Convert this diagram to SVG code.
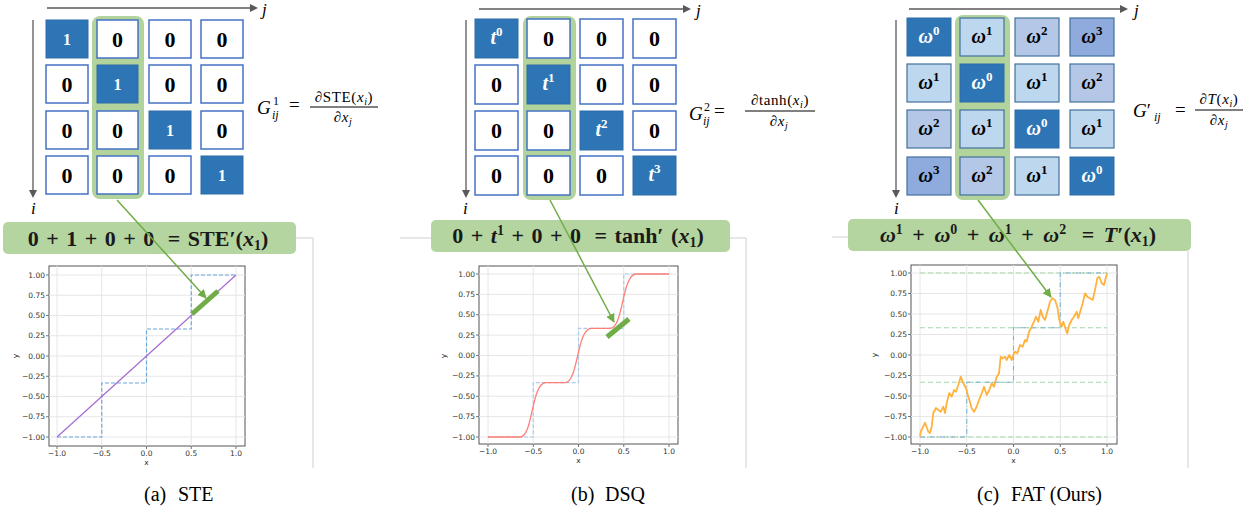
<svg xmlns="http://www.w3.org/2000/svg" width="1258" height="514" viewBox="0 0 1258 514">
<defs>
<style>
text{font-family:"Liberation Serif",serif;}
.dk{fill:#2E75B6;stroke:#2E6DA8;stroke-width:1;}
.wh{fill:#FFFFFF;stroke:#4472C4;stroke-width:1.5;}
.l1{fill:#BDD7EE;stroke:#41719C;stroke-width:1.2;}
.l2{fill:#B4C7E7;stroke:#41719C;stroke-width:1.2;}
.l3{fill:#8FAADC;stroke:#41719C;stroke-width:1.2;}
.hl{fill:#B2D49C;}
.fbox{fill:#B4D5A0;}
.cz{font-size:22px;font-weight:bold;text-anchor:middle;fill:#000;}
.c1{font-size:16px;font-weight:bold;text-anchor:middle;fill:#fff;}
.tv{font-size:20px;font-weight:bold;font-style:italic;text-anchor:middle;fill:#fff;}
.om{font-size:20px;font-weight:bold;font-style:italic;text-anchor:middle;fill:#000;}
.omw{font-size:20px;font-weight:bold;font-style:italic;text-anchor:middle;fill:#fff;}
.sp{font-size:13px;font-style:normal;}
.ax{stroke:#595959;stroke-width:1.3;fill:none;}
.axh{fill:#595959;}
.axl{font-size:17px;font-style:italic;fill:#000;}
.gf{font-size:19px;fill:#000;}
.gs{font-size:12px;}
.fr{font-size:15px;fill:#000;text-anchor:middle;letter-spacing:0.6px;}
.frl{stroke:#000;stroke-width:1;}
.fb{font-size:22px;font-weight:bold;text-anchor:middle;fill:#1a1a1a;word-spacing:2px;}
.fs{font-size:14px;font-style:normal;}
.sep{stroke:#D0D0D0;stroke-width:1;fill:none;}
.frame{fill:#fff;stroke:#555;stroke-width:1;}
.grid{stroke:#E6E6E6;stroke-width:1;fill:none;}
.tk{stroke:#555;stroke-width:0.8;}
.tlx{font-family:"DejaVu Sans",sans-serif;font-size:7.5px;fill:#333;text-anchor:middle;}
.tly{font-family:"DejaVu Sans",sans-serif;font-size:7.5px;fill:#333;text-anchor:end;}
.step{fill:none;stroke:#6FA8DC;stroke-width:1.2;stroke-dasharray:4 2;}
.stepl{fill:none;stroke:#A9CCEA;stroke-width:1.2;stroke-dasharray:4 2;}
.garrow{stroke:#70AD47;stroke-width:1.5;fill:none;}
.gthick{stroke:#70AD47;stroke-width:5;stroke-linecap:butt;}
.cap{font-size:20px;fill:#000;}
</style>
<marker id="ga" viewBox="0 0 10 10" refX="9" refY="5" markerWidth="6" markerHeight="6" orient="auto" markerUnits="strokeWidth">
<path d="M0,0 L10,5 L0,10 z" fill="#70AD47"/>
</marker>
</defs>
<rect width="1258" height="514" fill="#fff"/>

<g id="separators">
<path class="sep" d="M296,238 H313 V468"/>
<path class="sep" d="M400,238 H431 M730,238 H746 V468"/>
<path class="sep" d="M832,237 H848 M1188,251 V468"/>
</g>

<!-- ================= Panel A ================= -->
<g id="panelA-axes">
<line class="ax" x1="47" y1="8" x2="251" y2="8"/>
<path class="axh" d="M258,8 L250,4 L250,12 z"/>
<text class="axl" x="262" y="15">j</text>
<line class="ax" x1="33" y1="20" x2="33" y2="191"/>
<path class="axh" d="M33,198 L29,190 L37,190 z"/>
<text class="axl" x="31" y="214">i</text>
</g>
<g id="panelA-matrix">
<rect class="hl" x="92" y="16" width="52" height="183" rx="8"/>
<rect class="dk" x="46" y="20" width="42" height="38"/><text class="c1" x="67" y="45">1</text>
<rect class="wh" x="97" y="20" width="41" height="38"/><text class="cz" x="117.5" y="47">0</text>
<rect class="wh" x="149" y="20" width="42" height="38"/><text class="cz" x="170" y="47">0</text>
<rect class="wh" x="201" y="20" width="42" height="38"/><text class="cz" x="222" y="47">0</text>
<rect class="wh" x="46" y="65" width="42" height="38"/><text class="cz" x="67" y="92">0</text>
<rect class="dk" x="97" y="65" width="41" height="38"/><text class="c1" x="117.5" y="90">1</text>
<rect class="wh" x="149" y="65" width="42" height="38"/><text class="cz" x="170" y="92">0</text>
<rect class="wh" x="201" y="65" width="42" height="38"/><text class="cz" x="222" y="92">0</text>
<rect class="wh" x="46" y="111" width="42" height="38"/><text class="cz" x="67" y="138">0</text>
<rect class="wh" x="97" y="111" width="41" height="38"/><text class="cz" x="117.5" y="138">0</text>
<rect class="dk" x="149" y="111" width="42" height="38"/><text class="c1" x="170" y="136">1</text>
<rect class="wh" x="201" y="111" width="42" height="38"/><text class="cz" x="222" y="138">0</text>
<rect class="wh" x="46" y="156" width="42" height="38"/><text class="cz" x="67" y="183">0</text>
<rect class="wh" x="97" y="156" width="41" height="38"/><text class="cz" x="117.5" y="183">0</text>
<rect class="wh" x="149" y="156" width="42" height="38"/><text class="cz" x="170" y="183">0</text>
<rect class="dk" x="201" y="156" width="42" height="38"/><text class="c1" x="222" y="181">1</text>
</g>
<g id="panelA-def">
<text class="gf" x="257" y="114" font-style="italic">G</text>
<text class="gf gs" x="273" y="105">1</text>
<text class="gf gs" x="272" y="119" font-style="italic">ij</text>
<text class="gf" x="289" y="111">=</text>
<line class="frl" x1="310" y1="107" x2="378" y2="107"/>
<text class="fr" x="344" y="102">∂STE(<tspan font-style="italic">x</tspan><tspan font-size="10" font-style="italic" dy="3">i</tspan><tspan dy="-3">)</tspan></text>
<text class="fr" x="343" y="122">∂<tspan font-style="italic">x</tspan><tspan font-size="10" font-style="italic" dy="3">j</tspan></text>
</g>
<g id="panelA-sum">
<rect class="fbox" x="3" y="222" width="293" height="32" rx="5"/>
<text class="fb" x="148" y="246">0 + 1 + 0 + 0 <tspan dx="6">= STE′(</tspan><tspan font-style="italic">x</tspan><tspan class="fs" dy="4">1</tspan><tspan dy="-4">)</tspan></text>
</g>
<g id="panelA-plot">
<rect class="frame" x="49" y="266" width="196" height="180"/>
<path class="grid" d="M57,266V446M101.75,266V446M146.5,266V446M191.25,266V446M236,266V446M49,275H245M49,295.25H245M49,315.5H245M49,335.75H245M49,356H245M49,376.25H245M49,396.5H245M49,416.75H245M49,437H245"/>
<path class="tk" d="M57,446v3M101.75,446v3M146.5,446v3M191.25,446v3M236,446v3M46,275h3M46,295.25h3M46,315.5h3M46,335.75h3M46,356h3M46,376.25h3M46,396.5h3M46,416.75h3M46,437h3"/>
<text class="tly" x="45" y="277.5">1.00</text>
<text class="tly" x="45" y="297.75">0.75</text>
<text class="tly" x="45" y="318">0.50</text>
<text class="tly" x="45" y="338.25">0.25</text>
<text class="tly" x="45" y="358.5">0.00</text>
<text class="tly" x="45" y="378.75">−0.25</text>
<text class="tly" x="45" y="399">−0.50</text>
<text class="tly" x="45" y="419.25">−0.75</text>
<text class="tly" x="45" y="439.5">−1.00</text>
<text class="tlx" x="57" y="456">−1.0</text>
<text class="tlx" x="101.75" y="456">−0.5</text>
<text class="tlx" x="146.5" y="456">0.0</text>
<text class="tlx" x="191.25" y="456">0.5</text>
<text class="tlx" x="236" y="456">1.0</text>
<text class="tlx" x="146.5" y="465">x</text>
<text class="tlx" transform="translate(18,356) rotate(-90)">y</text>
<path class="step" d="M57,437 H101.75 V383 H146.5 V329 H191.25 V275 H236"/>
<line x1="57" y1="437" x2="236" y2="275" stroke="#A66BD3" stroke-width="1.2"/>
</g>

<!-- ================= Panel B ================= -->
<g id="panelB-axes">
<line class="ax" x1="479" y1="9" x2="684" y2="9"/>
<path class="axh" d="M691,9 L683,5 L683,13 z"/>
<text class="axl" x="696" y="16">j</text>
<line class="ax" x1="466" y1="20" x2="466" y2="191"/>
<path class="axh" d="M466,198 L462,190 L470,190 z"/>
<text class="axl" x="463" y="214">i</text>
</g>
<g id="panelB-matrix">
<rect class="hl" x="523" y="16" width="53" height="184" rx="8"/>
<rect class="dk" x="475" y="19" width="43" height="39"/><text class="tv" x="496.5" y="44">t<tspan class="sp" dy="-8">0</tspan></text>
<rect class="wh" x="527" y="19" width="43" height="39"/><text class="cz" x="548.5" y="46">0</text>
<rect class="wh" x="580" y="19" width="43" height="39"/><text class="cz" x="601.5" y="46">0</text>
<rect class="wh" x="633" y="19" width="43" height="39"/><text class="cz" x="654.5" y="46">0</text>
<rect class="wh" x="475" y="65" width="43" height="39"/><text class="cz" x="496.5" y="92">0</text>
<rect class="dk" x="527" y="65" width="43" height="39"/><text class="tv" x="548.5" y="90">t<tspan class="sp" dy="-8">1</tspan></text>
<rect class="wh" x="580" y="65" width="43" height="39"/><text class="cz" x="601.5" y="92">0</text>
<rect class="wh" x="633" y="65" width="43" height="39"/><text class="cz" x="654.5" y="92">0</text>
<rect class="wh" x="475" y="111" width="43" height="39"/><text class="cz" x="496.5" y="138">0</text>
<rect class="wh" x="527" y="111" width="43" height="39"/><text class="cz" x="548.5" y="138">0</text>
<rect class="dk" x="580" y="111" width="43" height="39"/><text class="tv" x="601.5" y="136">t<tspan class="sp" dy="-8">2</tspan></text>
<rect class="wh" x="633" y="111" width="43" height="39"/><text class="cz" x="654.5" y="138">0</text>
<rect class="wh" x="475" y="156" width="43" height="39"/><text class="cz" x="496.5" y="183">0</text>
<rect class="wh" x="527" y="156" width="43" height="39"/><text class="cz" x="548.5" y="183">0</text>
<rect class="wh" x="580" y="156" width="43" height="39"/><text class="cz" x="601.5" y="183">0</text>
<rect class="dk" x="633" y="156" width="43" height="39"/><text class="tv" x="654.5" y="181">t<tspan class="sp" dy="-8">3</tspan></text>
</g>
<g id="panelB-def">
<text class="gf" x="689" y="120" font-style="italic">G</text>
<text class="gf gs" x="704" y="111">2</text>
<text class="gf gs" x="703" y="125" font-style="italic">ij</text>
<text class="gf" x="714" y="117">=</text>
<line class="frl" x1="745" y1="111" x2="815" y2="111"/>
<text class="fr" x="780" y="105">∂tanh(<tspan font-style="italic">x</tspan><tspan font-size="10" font-style="italic" dy="3">i</tspan><tspan dy="-3">)</tspan></text>
<text class="fr" x="779" y="126">∂<tspan font-style="italic">x</tspan><tspan font-size="10" font-style="italic" dy="3">j</tspan></text>
</g>
<g id="panelB-sum">
<rect class="fbox" x="431" y="220" width="299" height="32" rx="5"/>
<text class="fb" x="578" y="243">0 + <tspan font-style="italic">t</tspan><tspan class="fs" dy="-8">1</tspan><tspan dy="8"> + 0 + 0 </tspan><tspan dx="6">= tanh′ (</tspan><tspan font-style="italic">x</tspan><tspan class="fs" dy="4">1</tspan><tspan dy="-4">)</tspan></text>
</g>
<g id="panelB-plot">
<rect class="frame" x="479" y="266" width="199" height="178"/>
<path class="grid" d="M488,266V444M533.25,266V444M578.5,266V444M623.75,266V444M669,266V444M479,274H678M479,294.4H678M479,314.75H678M479,335.1H678M479,355.5H678M479,375.9H678M479,396.25H678M479,416.6H678M479,437H678"/>
<path class="tk" d="M488,444v3M533.25,444v3M578.5,444v3M623.75,444v3M669,444v3M476,274h3M476,294.4h3M476,314.75h3M476,335.1h3M476,355.5h3M476,375.9h3M476,396.25h3M476,416.6h3M476,437h3"/>
<text class="tly" x="475" y="276.5">1.00</text>
<text class="tly" x="475" y="296.9">0.75</text>
<text class="tly" x="475" y="317.25">0.50</text>
<text class="tly" x="475" y="337.6">0.25</text>
<text class="tly" x="475" y="358">0.00</text>
<text class="tly" x="475" y="378.4">−0.25</text>
<text class="tly" x="475" y="398.75">−0.50</text>
<text class="tly" x="475" y="419.1">−0.75</text>
<text class="tly" x="475" y="439.5">−1.00</text>
<text class="tlx" x="488" y="454">−1.0</text>
<text class="tlx" x="533.25" y="454">−0.5</text>
<text class="tlx" x="578.5" y="454">0.0</text>
<text class="tlx" x="623.75" y="454">0.5</text>
<text class="tlx" x="669" y="454">1.0</text>
<text class="tlx" x="578.5" y="463">x</text>
<text class="tlx" transform="translate(446,356) rotate(-90)">y</text>
<path class="stepl" d="M488,437 H533.25 V382.7 H578.5 V328.3 H623.75 V274 H669"/>
<path d="M488,437 H520 C533.25,437 531,382.7 546,382.7 H565 C578.5,382.7 576.5,328.3 591.5,328.3 H610 C623.75,328.3 621.5,274 636.5,274 H669" fill="none" stroke="#FF7F78" stroke-width="1.3"/>
</g>

<!-- ================= Panel C ================= -->
<g id="panelC-axes">
<line class="ax" x1="909" y1="9" x2="1121" y2="9"/>
<path class="axh" d="M1128,9 L1120,5 L1120,13 z"/>
<text class="axl" x="1134" y="16">j</text>
<line class="ax" x1="896" y1="20" x2="896" y2="191"/>
<path class="axh" d="M896,198 L892,190 L900,190 z"/>
<text class="axl" x="894" y="214">i</text>
</g>
<g id="panelC-matrix">
<rect class="hl" x="955" y="15" width="55" height="185" rx="8"/>
<rect class="dk" x="907" y="18" width="44" height="38"/><text class="omw" x="929" y="43">ω<tspan class="sp" dy="-8">0</tspan></text>
<rect class="l1" x="960" y="18" width="44" height="38"/><text class="om" x="982" y="43">ω<tspan class="sp" dy="-8">1</tspan></text>
<rect class="l2" x="1015" y="18" width="44" height="38"/><text class="om" x="1037" y="43">ω<tspan class="sp" dy="-8">2</tspan></text>
<rect class="l3" x="1070" y="18" width="44" height="38"/><text class="om" x="1092" y="43">ω<tspan class="sp" dy="-8">3</tspan></text>
<rect class="l1" x="907" y="64" width="44" height="38"/><text class="om" x="929" y="89">ω<tspan class="sp" dy="-8">1</tspan></text>
<rect class="dk" x="960" y="64" width="44" height="38"/><text class="omw" x="982" y="89">ω<tspan class="sp" dy="-8">0</tspan></text>
<rect class="l1" x="1015" y="64" width="44" height="38"/><text class="om" x="1037" y="89">ω<tspan class="sp" dy="-8">1</tspan></text>
<rect class="l2" x="1070" y="64" width="44" height="38"/><text class="om" x="1092" y="89">ω<tspan class="sp" dy="-8">2</tspan></text>
<rect class="l2" x="907" y="110" width="44" height="38"/><text class="om" x="929" y="135">ω<tspan class="sp" dy="-8">2</tspan></text>
<rect class="l1" x="960" y="110" width="44" height="38"/><text class="om" x="982" y="135">ω<tspan class="sp" dy="-8">1</tspan></text>
<rect class="dk" x="1015" y="110" width="44" height="38"/><text class="omw" x="1037" y="135">ω<tspan class="sp" dy="-8">0</tspan></text>
<rect class="l1" x="1070" y="110" width="44" height="38"/><text class="om" x="1092" y="135">ω<tspan class="sp" dy="-8">1</tspan></text>
<rect class="l3" x="907" y="157" width="44" height="38"/><text class="om" x="929" y="182">ω<tspan class="sp" dy="-8">3</tspan></text>
<rect class="l2" x="960" y="157" width="44" height="38"/><text class="om" x="982" y="182">ω<tspan class="sp" dy="-8">2</tspan></text>
<rect class="l1" x="1015" y="157" width="44" height="38"/><text class="om" x="1037" y="182">ω<tspan class="sp" dy="-8">1</tspan></text>
<rect class="dk" x="1070" y="157" width="44" height="38"/><text class="omw" x="1092" y="182">ω<tspan class="sp" dy="-8">0</tspan></text>
</g>
<g id="panelC-def">
<text class="gf" x="1133" y="117"><tspan font-style="italic">G</tspan>′</text>
<text class="gf gs" x="1154" y="121" font-style="italic">ij</text>
<text class="gf" x="1175" y="116">=</text>
<line class="frl" x1="1195" y1="110" x2="1243" y2="110"/>
<text class="fr" x="1219" y="104">∂<tspan font-style="italic">T</tspan>(<tspan font-style="italic">x</tspan><tspan font-size="10" font-style="italic" dy="3">i</tspan><tspan dy="-3">)</tspan></text>
<text class="fr" x="1219" y="125">∂<tspan font-style="italic">x</tspan><tspan font-size="10" font-style="italic" dy="3">j</tspan></text>
</g>
<g id="panelC-sum">
<rect class="fbox" x="848" y="219" width="343" height="32" rx="5"/>
<text class="fb" x="1018" y="242" style="word-spacing:4px"><tspan font-style="italic">ω</tspan><tspan class="fs" dy="-8">1</tspan><tspan dy="8"> + </tspan><tspan font-style="italic">ω</tspan><tspan class="fs" dy="-8">0</tspan><tspan dy="8"> + </tspan><tspan font-style="italic">ω</tspan><tspan class="fs" dy="-8">1</tspan><tspan dy="8"> + </tspan><tspan font-style="italic">ω</tspan><tspan class="fs" dy="-8">2</tspan><tspan dy="8" dx="6"> = </tspan><tspan font-style="italic">T</tspan>′(<tspan font-style="italic">x</tspan><tspan class="fs" dy="4">1</tspan><tspan dy="-4">)</tspan></text>
</g>
<g id="panelC-plot">
<rect class="frame" x="911" y="265" width="206" height="179"/>
<path class="grid" d="M920,265V444M966.75,265V444M1013.5,265V444M1060.25,265V444M1107,265V444M911,273H1117M911,293.5H1117M911,314H1117M911,334.5H1117M911,355H1117M911,375.5H1117M911,396H1117M911,416.5H1117M911,437H1117"/>
<path class="tk" d="M920,444v3M966.75,444v3M1013.5,444v3M1060.25,444v3M1107,444v3M908,273h3M908,293.5h3M908,314h3M908,334.5h3M908,355h3M908,375.5h3M908,396h3M908,416.5h3M908,437h3"/>
<text class="tly" x="907" y="275.5">1.00</text>
<text class="tly" x="907" y="296">0.75</text>
<text class="tly" x="907" y="316.5">0.50</text>
<text class="tly" x="907" y="337">0.25</text>
<text class="tly" x="907" y="357.5">0.00</text>
<text class="tly" x="907" y="378">−0.25</text>
<text class="tly" x="907" y="398.5">−0.50</text>
<text class="tly" x="907" y="419">−0.75</text>
<text class="tly" x="907" y="439.5">−1.00</text>
<text class="tlx" x="920" y="454">−1.0</text>
<text class="tlx" x="966.75" y="454">−0.5</text>
<text class="tlx" x="1013.5" y="454">0.0</text>
<text class="tlx" x="1060.25" y="454">0.5</text>
<text class="tlx" x="1107" y="454">1.0</text>
<text class="tlx" x="1013.5" y="463">x</text>
<text class="tlx" transform="translate(877,355) rotate(-90)">y</text>
<path d="M920,273H1107M920,327.7H1107M920,382.3H1107M920,437H1107" fill="none" stroke="#A8D8A8" stroke-width="1.1" stroke-dasharray="5 3"/>
<path d="M920,437 H966.75 V382.3 H1013.5 V327.7 H1060.25 V273 H1107" fill="none" stroke="#7FB2D0" stroke-width="1.1" stroke-dasharray="5 2 1 2"/>
<path d="M920,436.7 L920.7,431.7 L923,427 L925,422.7 L927,428 L928.3,431.7 L930,433 L931.7,426.7 L933.3,413 L936,408 L938.3,410 L940.7,411.7 L943.3,406.7 L945,413 L946.7,403 L949.3,393 L951.7,396.7 L954,390 L956,391.7 L958.3,385 L960.7,376.7 L963.3,383.3 L966,388.3 L968.3,396.7 L970,402 L971.7,408.3 L974,411.7 L976.7,406.7 L979,400 L981.7,393.3 L984,386.7 L986.7,395 L989.3,390 L991.7,383.3 L994,386.7 L996.7,376.7 L999,373.3 L1000.7,356.7 L1002.7,358.3 L1005,356.7 L1006.7,360 L1009.3,355 L1011.7,360 L1013.3,355 L1015,351.7 L1017.3,353.3 L1020,345 L1022.7,346.7 L1025,340 L1026.7,341.7 L1029,331.7 L1031.7,326.7 L1034,321.7 L1036,316.7 L1038.3,321.7 L1040.7,310 L1042.7,316.7 L1045,320 L1047.3,311.7 L1050,301.7 L1052.3,298.3 L1055,300 L1057.3,306.7 L1059.3,320 L1061.7,326.7 L1063.3,321.7 L1066,330 L1067.3,333.3 L1069.3,325 L1071.7,320 L1074,316.7 L1076.7,311.7 L1078.3,318.3 L1080.7,310 L1082.7,303.3 L1085,293.3 L1087.3,296.7 L1090,298.3 L1092.7,300 L1095,290 L1097.3,278.3 L1099.3,276.7 L1101.7,283.3 L1104,285 L1106,276.7 L1107.3,273.3" fill="none" stroke="#FFB23E" stroke-width="1.8" stroke-linejoin="round"/>
</g>

<g id="connectors">
<line class="garrow" x1="117" y1="200" x2="206" y2="298" marker-end="url(#ga)"/>
<line class="gthick" x1="192" y1="314" x2="218" y2="291"/>
<line class="garrow" x1="550" y1="200" x2="614" y2="322" marker-end="url(#ga)"/>
<line class="gthick" x1="607" y1="337" x2="629" y2="319"/>
<line class="garrow" x1="978" y1="200" x2="1051" y2="297" marker-end="url(#ga)"/>
</g>

<g id="captions">
<text class="cap" x="144" y="501">(a)</text><text class="cap" x="178" y="501">STE</text>
<text class="cap" x="571" y="501">(b)</text><text class="cap" x="605" y="501">DSQ</text>
<text class="cap" x="977" y="501">(c)</text><text class="cap" x="1011" y="501">FAT (Ours)</text>
</g>
</svg>
